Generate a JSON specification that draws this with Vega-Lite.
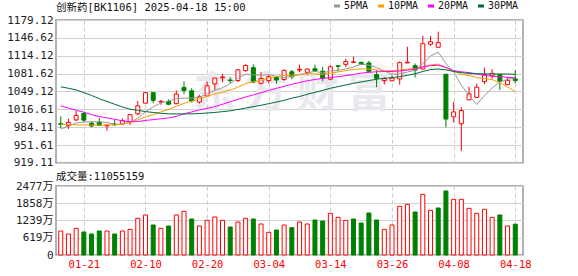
{
"$schema": "https://vega.github.io/schema/vega-lite/v6.json",
"background": "white",
"padding": {"left": 5, "top": 1, "right": 5, "bottom": 2},
"config": {
  "view": {"stroke": "#999999", "strokeWidth": 1.5},
  "font": "DejaVu Sans Mono, Noto Sans CJK SC",
  "axis": {"domain": false, "ticks": false, "labelOverlap": false, "labelFont": "DejaVu Sans Mono, Noto Sans CJK SC", "labelFontSize": 11, "labelColor": "#222222", "gridColor": "#d0d0d0", "gridWidth": 1},
  "title": {"font": "DejaVu Sans Mono, Noto Sans CJK SC", "fontSize": 10.5, "fontWeight": "normal", "color": "#111111", "anchor": "start", "frame": "group"},
  "legend": {"labelFont": "DejaVu Sans Mono, Noto Sans CJK SC"}
},
"data": {"values": [
{"d":"01-16","o":990.5,"h":1004,"l":982.5,"c":989.5,"k":"dn","v":862,"vk":"up","m5":981,"m10":989,"m20":1023,"m30":1057.6},
{"d":"01-17","o":987,"h":999.5,"l":981,"c":993,"k":"up","v":754,"vk":"up","m5":986,"m10":989,"m20":1019,"m30":1055},
{"d":"01-20","o":997.5,"h":1013.5,"l":995.5,"c":1005.5,"k":"up","v":957,"vk":"up","m5":992,"m10":988.5,"m20":1015,"m30":1052},
{"d":"01-21","o":1009,"h":1012,"l":993,"c":997,"k":"dn","v":826,"vk":"dn","m5":993.5,"m10":988.5,"m20":1011.5,"m30":1047},
{"d":"01-22","o":991.5,"h":994,"l":984,"c":986.5,"k":"dn","v":754,"vk":"dn","m5":994.3,"m10":988,"m20":1007,"m30":1042},
{"d":"01-23","o":993.5,"h":1001,"l":987,"c":987.5,"k":"dn","v":862,"vk":"dn","m5":993.9,"m10":988,"m20":1003.5,"m30":1036},
{"d":"01-24","o":986.5,"h":988.5,"l":978,"c":988,"k":"up","v":862,"vk":"up","m5":992.9,"m10":988.5,"m20":1001,"m30":1031},
{"d":"01-27","o":990,"h":998,"l":987,"c":988.5,"k":"dn","v":754,"vk":"dn","m5":989.5,"m10":988.5,"m20":998.5,"m30":1026},
{"d":"02-05","o":990,"h":1000.5,"l":988,"c":996,"k":"up","v":862,"vk":"up","m5":989.3,"m10":990,"m20":996,"m30":1021},
{"d":"02-06","o":994,"h":1007.5,"l":988,"c":1007,"k":"up","v":921,"vk":"up","m5":993.4,"m10":993,"m20":994,"m30":1017},
{"d":"02-07","o":1008.5,"h":1032,"l":1006,"c":1023,"k":"up","v":1316,"vk":"up","m5":1000.5,"m10":997.5,"m20":994.5,"m30":1015},
{"d":"02-10","o":1028,"h":1048,"l":1027,"c":1047,"k":"up","v":1436,"vk":"up","m5":1012.3,"m10":1003,"m20":996.5,"m30":1012.5},
{"d":"02-11","o":1047,"h":1047.5,"l":1028,"c":1033,"k":"dn","v":1077,"vk":"dn","m5":1021.2,"m10":1007,"m20":998,"m30":1011},
{"d":"02-12","o":1030,"h":1034,"l":1025,"c":1031,"k":"up","v":957,"vk":"up","m5":1028.2,"m10":1012,"m20":999.5,"m30":1009.5},
{"d":"02-13","o":1031,"h":1035,"l":1024,"c":1026,"k":"dn","v":1041,"vk":"dn","m5":1032,"m10":1016.5,"m20":1001,"m30":1008.5},
{"d":"02-14","o":1027,"h":1051,"l":1026,"c":1044.5,"k":"up","v":1436,"vk":"up","m5":1036.3,"m10":1022,"m20":1004,"m30":1008.5},
{"d":"02-17","o":1056.5,"h":1067.5,"l":1044,"c":1051,"k":"dn","v":1568,"vk":"up","m5":1037.1,"m10":1027.5,"m20":1008.5,"m30":1008.3},
{"d":"02-18","o":1050.5,"h":1055,"l":1029,"c":1032,"k":"dn","v":1292,"vk":"dn","m5":1036.9,"m10":1031.5,"m20":1012,"m30":1008.5},
{"d":"02-19","o":1030,"h":1043,"l":1027,"c":1039.5,"k":"up","v":1041,"vk":"up","m5":1038.6,"m10":1035.7,"m20":1015.5,"m30":1009},
{"d":"02-20","o":1041,"h":1067.5,"l":1040,"c":1059.5,"k":"up","v":1245,"vk":"up","m5":1045.3,"m10":1040.3,"m20":1018.5,"m30":1010},
{"d":"02-21","o":1063,"h":1074,"l":1052,"c":1073.5,"k":"up","v":1364,"vk":"up","m5":1051.1,"m10":1044.6,"m20":1021.5,"m30":1011},
{"d":"02-24","o":1074,"h":1081,"l":1066,"c":1075.5,"k":"up","v":1245,"vk":"up","m5":1056,"m10":1048,"m20":1026,"m30":1012.5},
{"d":"02-25","o":1070,"h":1075,"l":1064,"c":1069,"k":"dn","v":1005,"vk":"dn","m5":1063.4,"m10":1051.6,"m20":1030.5,"m30":1014},
{"d":"02-26","o":1069,"h":1089.5,"l":1066,"c":1088.5,"k":"up","v":1185,"vk":"up","m5":1073.2,"m10":1057,"m20":1035,"m30":1016.5},
{"d":"02-27","o":1087,"h":1098.5,"l":1085,"c":1096.5,"k":"up","v":1316,"vk":"up","m5":1080.6,"m10":1063.5,"m20":1039,"m30":1019},
{"d":"02-28","o":1092.5,"h":1098.5,"l":1064,"c":1066.5,"k":"dn","v":1292,"vk":"dn","m5":1079.2,"m10":1066.8,"m20":1043,"m30":1021.5},
{"d":"03-03","o":1064,"h":1085,"l":1062,"c":1073,"k":"up","v":1113,"vk":"up","m5":1078.7,"m10":1069.7,"m20":1047,"m30":1024},
{"d":"03-04","o":1069,"h":1079,"l":1064,"c":1076,"k":"up","v":814,"vk":"up","m5":1080.1,"m10":1073.6,"m20":1051,"m30":1027},
{"d":"03-05","o":1074.5,"h":1076,"l":1063,"c":1070,"k":"dn","v":898,"vk":"dn","m5":1076.4,"m10":1076.4,"m20":1055,"m30":1030},
{"d":"03-06","o":1071,"h":1089.5,"l":1068.5,"c":1087.5,"k":"up","v":1077,"vk":"up","m5":1074.6,"m10":1078.5,"m20":1058.5,"m30":1033},
{"d":"03-07","o":1085,"h":1088.5,"l":1071.5,"c":1076,"k":"dn","v":981,"vk":"dn","m5":1076.5,"m10":1079,"m20":1062,"m30":1037},
{"d":"03-10","o":1088,"h":1098,"l":1084,"c":1089.5,"k":"up","v":1185,"vk":"up","m5":1079.8,"m10":1080,"m20":1065.5,"m30":1040},
{"d":"03-11","o":1084,"h":1091,"l":1079,"c":1090,"k":"up","v":1113,"vk":"up","m5":1082.6,"m10":1081.2,"m20":1068.5,"m30":1044},
{"d":"03-12","o":1090.5,"h":1098,"l":1085,"c":1086,"k":"dn","v":1257,"vk":"dn","m5":1085.8,"m10":1081,"m20":1071,"m30":1047.5},
{"d":"03-13","o":1086,"h":1094,"l":1068,"c":1073,"k":"dn","v":1221,"vk":"dn","m5":1082.9,"m10":1080.4,"m20":1073,"m30":1051},
{"d":"03-14","o":1071.5,"h":1097,"l":1069.5,"c":1094,"k":"up","v":1496,"vk":"up","m5":1086.5,"m10":1082.5,"m20":1074.5,"m30":1055},
{"d":"03-17","o":1096,"h":1096.5,"l":1085,"c":1095,"k":"dn","v":1352,"vk":"up","m5":1087.6,"m10":1084.6,"m20":1076,"m30":1058},
{"d":"03-18","o":1098.5,"h":1108.5,"l":1093.5,"c":1103.5,"k":"up","v":1245,"vk":"up","m5":1090.3,"m10":1087,"m20":1078,"m30":1061},
{"d":"03-19","o":1102,"h":1112.5,"l":1102,"c":1103,"k":"up","v":1292,"vk":"dn","m5":1093.7,"m10":1089.4,"m20":1080,"m30":1064},
{"d":"03-20","o":1102,"h":1103.5,"l":1097,"c":1098.5,"k":"dn","v":1149,"vk":"dn","m5":1098.8,"m10":1090.2,"m20":1082.5,"m30":1066.5},
{"d":"03-21","o":1101,"h":1105,"l":1083,"c":1086,"k":"dn","v":1508,"vk":"dn","m5":1097.2,"m10":1090,"m20":1084,"m30":1069},
{"d":"03-24","o":1080,"h":1088,"l":1057,"c":1073,"k":"dn","v":1257,"vk":"dn","m5":1092.8,"m10":1088.4,"m20":1085,"m30":1071.5},
{"d":"03-25","o":1069,"h":1075.5,"l":1062,"c":1072.5,"k":"up","v":921,"vk":"up","m5":1086.6,"m10":1087.3,"m20":1085.5,"m30":1073},
{"d":"03-26","o":1068.5,"h":1078.5,"l":1068,"c":1073.5,"k":"up","v":1077,"vk":"up","m5":1080.7,"m10":1086.6,"m20":1085.5,"m30":1074.5},
{"d":"03-27","o":1072,"h":1104,"l":1061.5,"c":1101.5,"k":"up","v":1747,"vk":"up","m5":1081.3,"m10":1088.3,"m20":1086.5,"m30":1076},
{"d":"03-28","o":1101,"h":1130.5,"l":1101,"c":1102.5,"k":"up","v":1819,"vk":"up","m5":1084.6,"m10":1090,"m20":1088,"m30":1078.5},
{"d":"03-31","o":1096,"h":1100,"l":1074.5,"c":1088,"k":"dn","v":1544,"vk":"dn","m5":1087.6,"m10":1090.3,"m20":1090,"m30":1081.5},
{"d":"04-01","o":1090,"h":1150.5,"l":1089.5,"c":1136,"k":"up","v":2178,"vk":"up","m5":1100.3,"m10":1093.5,"m20":1094,"m30":1085.5},
{"d":"04-02","o":1135,"h":1150,"l":1132,"c":1139.5,"k":"up","v":1604,"vk":"up","m5":1113.5,"m10":1097.5,"m20":1096,"m30":1089},
{"d":"04-03","o":1129.5,"h":1158,"l":1129,"c":1138,"k":"up","v":1687,"vk":"dn","m5":1120.8,"m10":1099,"m20":1097,"m30":1090},
{"d":"04-07","o":1080.5,"h":1081,"l":984,"c":999,"k":"dn","v":2298,"vk":"dn","m5":1100.1,"m10":1092.2,"m20":1093,"m30":1088.5},
{"d":"04-08","o":1003,"h":1030.5,"l":993,"c":1012,"k":"up","v":1998,"vk":"up","m5":1084.9,"m10":1085.9,"m20":1087,"m30":1085.5},
{"d":"04-09","o":990.5,"h":1020.5,"l":941,"c":1014.5,"k":"up","v":1998,"vk":"up","m5":1060.6,"m10":1080.7,"m20":1085,"m30":1083.5},
{"d":"04-10","o":1034,"h":1058,"l":1034,"c":1045,"k":"up","v":1675,"vk":"up","m5":1041.7,"m10":1078,"m20":1083.5,"m30":1082},
{"d":"04-11","o":1038.5,"h":1063.5,"l":1037,"c":1057,"k":"up","v":1496,"vk":"up","m5":1025.5,"m10":1074.6,"m20":1081,"m30":1081.5},
{"d":"04-14","o":1067,"h":1092.5,"l":1062.5,"c":1079.5,"k":"up","v":1640,"vk":"up","m5":1041.6,"m10":1072.5,"m20":1078.5,"m30":1081.2},
{"d":"04-15","o":1077.5,"h":1089.5,"l":1072,"c":1082,"k":"up","v":1352,"vk":"up","m5":1055.6,"m10":1070.6,"m20":1077,"m30":1081},
{"d":"04-16","o":1080,"h":1081,"l":1052,"c":1068,"k":"dn","v":1436,"vk":"dn","m5":1066.3,"m10":1065,"m20":1076,"m30":1081},
{"d":"04-17","o":1061.5,"h":1075,"l":1061,"c":1069.5,"k":"up","v":1041,"vk":"up","m5":1071.2,"m10":1057.2,"m20":1075,"m30":1080.8},
{"d":"04-18","o":1072,"h":1088,"l":1064,"c":1069,"k":"dn","v":1106,"vk":"dn","m5":1073.6,"m10":1049.3,"m20":1074,"m30":1080.5}
]},
"spacing": 1,
"resolve": {"scale": {"x": "shared"}},
"vconcat": [
{
  "width": 467,
  "height": 143,
  "title": {"text": "创新药[BK1106] 2025-04-18 15:00", "offset": 1},
  "encoding": {
    "x": {"field": "d", "type": "ordinal", "title": null,
      "scale": {"type": "point", "padding": 0.81, "align": 0.38},
      "axis": {"values": ["01-21","02-10","02-20","03-04","03-14","03-26","04-08","04-18"], "labels": false, "grid": true, "gridDash": [4,3], "gridColor": "#cccccc", "minExtent": 0, "maxExtent": 0}}
  },
  "layer": [
    {
      "mark": {"type": "rule", "strokeWidth": 0, "opacity": 0},
      "encoding": {
        "y": {"field": "l", "type": "quantitative", "title": null,
          "scale": {"domain": [919.1, 1179.13], "nice": false, "zero": false},
          "axis": {"values": [919.11, 951.61, 984.11, 1016.61, 1049.12, 1081.62, 1114.12, 1146.62, 1179.12], "tickCount": 9, "format": ".2f", "labelOverlap": false, "labelPadding": 3, "minExtent": 50, "maxExtent": 50}},
        "y2": {"field": "h"}
      }
    },
    {
      "data": {"values": [{"w": "东方财富"}]},
      "mark": {"type": "text", "font": "Noto Sans CJK SC", "fontSize": 42, "fontWeight": "bold", "fill": "#e8e8ee", "baseline": "middle", "align": "center"},
      "encoding": {
        "x": {"datum": "03-07"},
        "y": {"datum": 1044, "type": "quantitative", "scale": {"domain": [919.1, 1179.13], "nice": false, "zero": false}, "title": null},
        "text": {"value": "东 方 财 富"}
      }
    },
    {
      "mark": {"type": "rule", "strokeWidth": 1},
      "encoding": {
        "y": {"field": "l", "type": "quantitative", "title": null, "scale": {"domain": [919.1, 1179.13], "nice": false, "zero": false}},
        "y2": {"field": "h"},
        "stroke": {"field": "k", "type": "nominal", "scale": {"domain": ["up","dn"], "range": ["#ff0000","#008000"]}, "legend": null}
      }
    },
    {
      "mark": {"type": "bar", "size": 4, "strokeWidth": 1},
      "encoding": {
        "y": {"field": "o", "type": "quantitative", "title": null, "scale": {"domain": [919.1, 1179.13], "nice": false, "zero": false}},
        "y2": {"field": "c"},
        "fill": {"field": "k", "type": "nominal", "scale": {"domain": ["up","dn"], "range": ["#ffffff","#008000"]}, "legend": null},
        "stroke": {"field": "k", "type": "nominal", "scale": {"domain": ["up","dn"], "range": ["#ff0000","#008000"]}, "legend": null}
      }
    },
    {
      "mark": {"type": "line", "strokeWidth": 1},
      "encoding": {
        "y": {"field": "m5", "type": "quantitative", "title": null, "scale": {"domain": [919.1, 1179.13], "nice": false, "zero": false}},
        "color": {"datum": "5PMA", "type": "nominal",
          "scale": {"domain": ["5PMA","10PMA","20PMA","30PMA"], "range": ["#999999","#f5a000","#ff00ff","#006b33"]},
          "legend": {"orient": "none", "legendX": 276, "legendY": -19, "direction": "horizontal", "title": null, "symbolType": "stroke", "symbolSize": 36, "symbolStrokeWidth": 3, "labelFontSize": 10, "labelColor": "#111111", "labelOffset": 2, "columnPadding": 3, "padding": 0}}
      }
    },
    {
      "mark": {"type": "line", "strokeWidth": 1},
      "encoding": {
        "y": {"field": "m10", "type": "quantitative", "title": null, "scale": {"domain": [919.1, 1179.13], "nice": false, "zero": false}},
        "color": {"datum": "10PMA", "type": "nominal"}
      }
    },
    {
      "mark": {"type": "line", "strokeWidth": 1},
      "encoding": {
        "y": {"field": "m20", "type": "quantitative", "title": null, "scale": {"domain": [919.1, 1179.13], "nice": false, "zero": false}},
        "color": {"datum": "20PMA", "type": "nominal"}
      }
    },
    {
      "mark": {"type": "line", "strokeWidth": 1},
      "encoding": {
        "y": {"field": "m30", "type": "quantitative", "title": null, "scale": {"domain": [919.1, 1179.13], "nice": false, "zero": false}},
        "color": {"datum": "30PMA", "type": "nominal"}
      }
    }
  ]
},
{
  "width": 467,
  "height": 69,
  "title": {"text": "成交量:11055159", "offset": -2},
  "mark": {"type": "bar", "size": 4, "strokeWidth": 1},
  "encoding": {
    "x": {"field": "d", "type": "ordinal", "title": null,
      "scale": {"type": "point", "padding": 0.81, "align": 0.38},
      "axis": {"values": ["01-21","02-10","02-20","03-04","03-14","03-26","04-08","04-18"], "labelColor": "#ff0000", "labelFontSize": 10.5, "labelPadding": 4, "labelAngle": 0, "grid": true, "gridDash": [4,3], "gridColor": "#cccccc"}},
    "y": {"field": "v", "type": "quantitative", "title": null,
      "scale": {"domain": [0, 2477], "nice": false},
      "axis": {"values": [0, 619, 1239, 1858, 2477], "tickCount": 10, "labelExpr": "datum.value === 0 ? '0' : datum.value + '万'", "labelOverlap": false, "labelPadding": 3, "minExtent": 50, "maxExtent": 50}},
    "fill": {"field": "vk", "type": "nominal", "scale": {"domain": ["up","dn"], "range": ["#ffffff","#008000"]}, "legend": null},
    "stroke": {"field": "vk", "type": "nominal", "scale": {"domain": ["up","dn"], "range": ["#ff0000","#008000"]}, "legend": null}
  }
}
]
}
